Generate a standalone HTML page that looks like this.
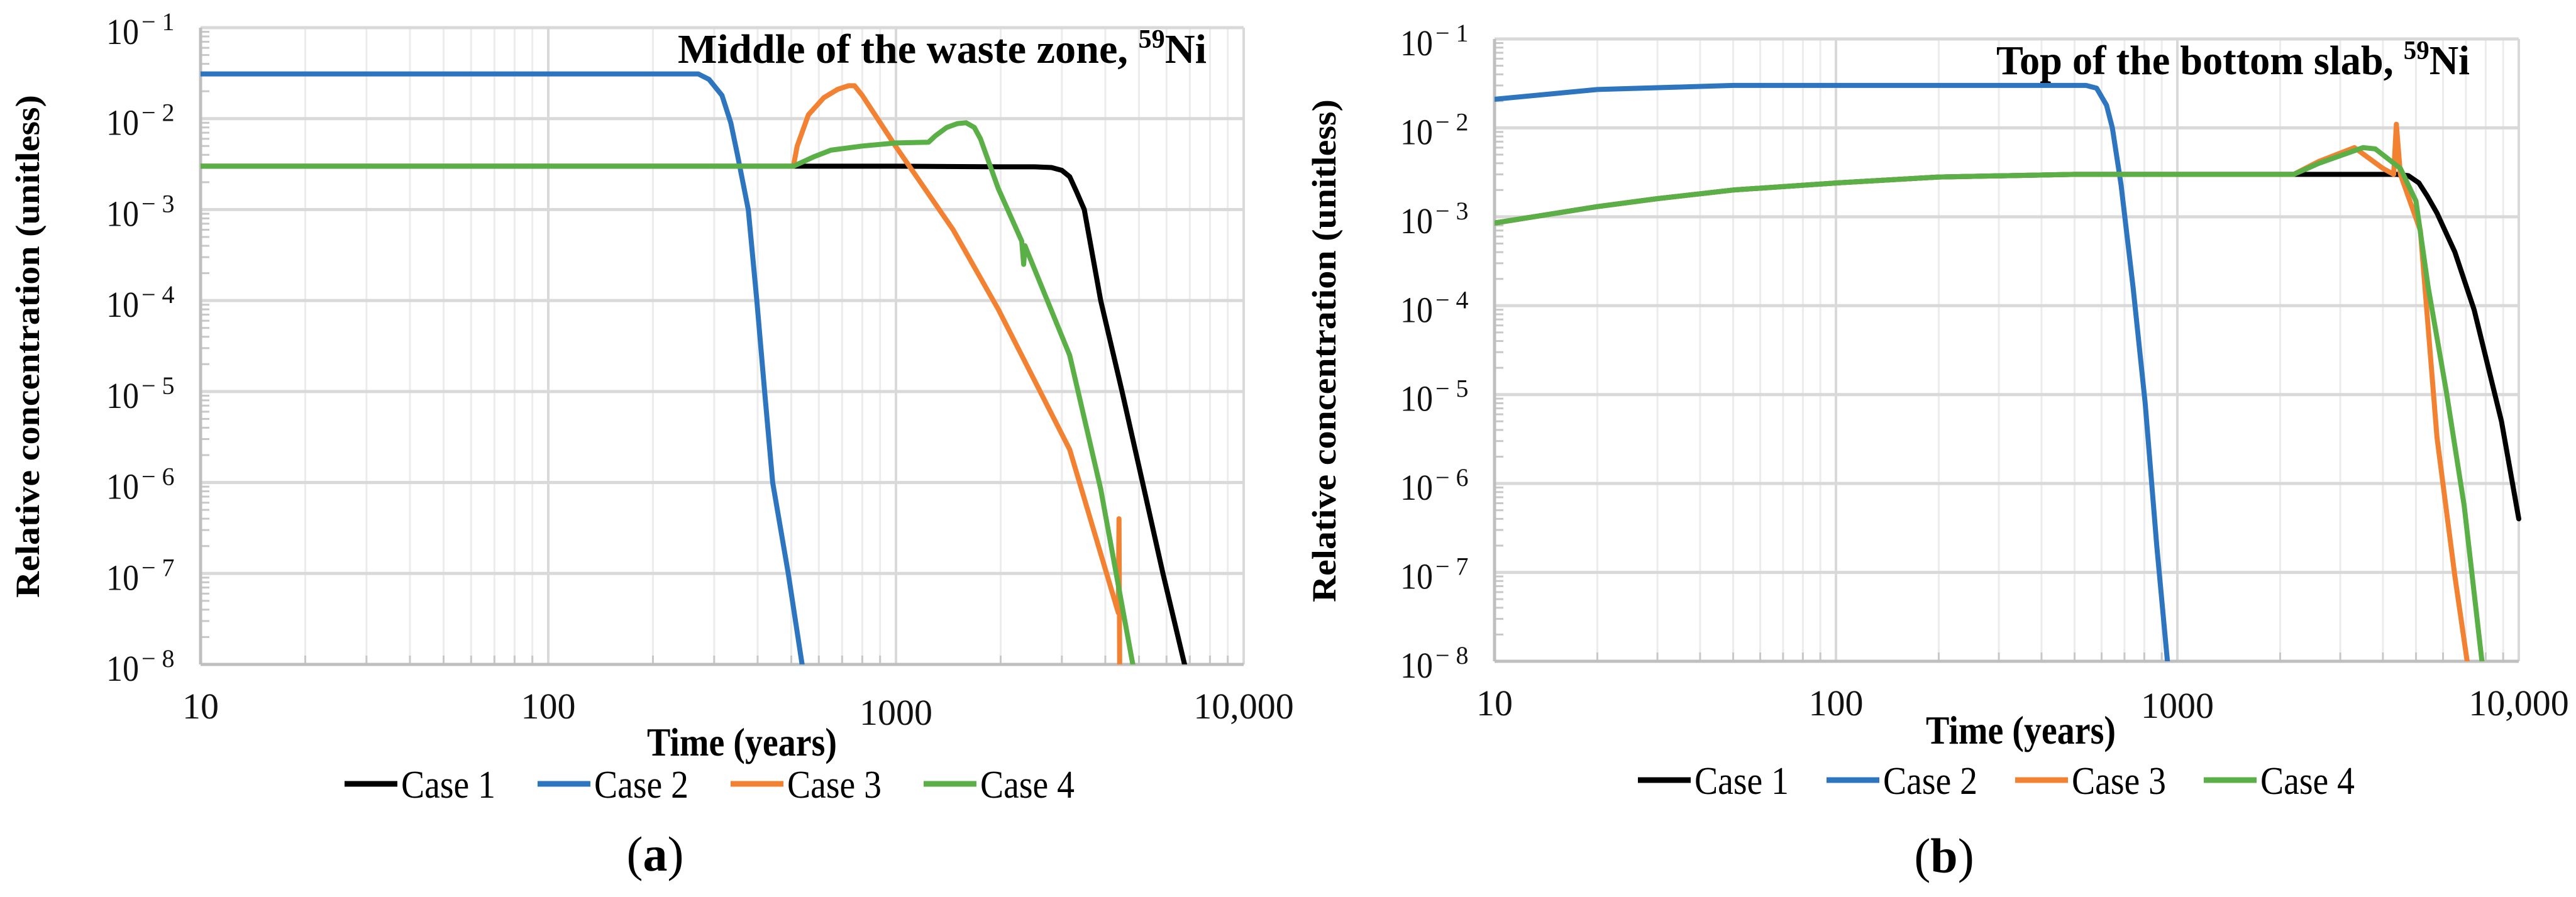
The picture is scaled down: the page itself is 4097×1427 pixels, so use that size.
<!DOCTYPE html>
<html><head><meta charset="utf-8"><style>
html,body{margin:0;padding:0;background:#fff;}
svg{display:block;}
svg text{font-family:"Liberation Serif","Times New Roman",serif;}
</style></head><body>
<svg id="fig" width="4097" height="1427" viewBox="0 0 4097 1427" xmlns="http://www.w3.org/2000/svg" font-family="Liberation Serif, serif"></svg>
<script>
// ---------- Panel (a) data: Middle of the waste zone ----------
const a_case1_t = [10, 500, 1000, 2000, 2500, 2800, 3000, 3160, 3300, 3480, 3880, 4470, 5120, 5860, 6760, 7000];
const a_case1_c = [3e-3, 3e-3, 3e-3, 2.95e-3, 2.95e-3, 2.9e-3, 2.7e-3, 2.3e-3, 1.6e-3, 1e-3, 1e-4, 1e-5, 1e-6, 1e-7, 1e-8, 3e-9];
const a_case2_t = [10, 270, 290, 316, 335, 350, 376, 398, 419, 442, 490, 537, 560];
const a_case2_c = [0.031, 0.031, 0.027, 0.018, 9e-3, 4e-3, 1e-3, 1e-4, 1e-5, 1e-6, 1e-7, 1e-8, 3e-9];
const a_case3_t = [10, 507, 520, 560, 620, 680, 730, 760, 800, 1000, 1460, 1970, 3160, 4360, 4380, 4400, 4420];
const a_case3_c = [3e-3, 3e-3, 5e-3, 0.011, 0.017, 0.021, 0.023, 0.023, 0.018, 4.9e-3, 6e-4, 8e-5, 2.3e-6, 3.7e-8, 4e-7, 1e-8, 3e-9];
const a_case4_t = [10, 507, 580, 650, 800, 1000, 1240, 1300, 1400, 1500, 1590, 1680, 1750, 1970, 2300, 2330, 2350, 3160, 3880, 4800, 5000];
const a_case4_c = [3e-3, 3e-3, 3.8e-3, 4.5e-3, 5e-3, 5.4e-3, 5.5e-3, 6.5e-3, 8e-3, 8.8e-3, 9e-3, 8e-3, 6e-3, 1.7e-3, 4.5e-4, 2.5e-4, 4e-4, 2.5e-5, 8.5e-7, 1e-8, 3e-9];

// ---------- Panel (b) data: Top of the bottom slab ----------
const b_case1_t = [10, 20, 30, 50, 100, 200, 500, 2190, 4400, 4750, 5100, 5400, 5760, 6500, 7400, 8900, 10000];
const b_case1_c = [8.5e-4, 1.3e-3, 1.6e-3, 2e-3, 2.4e-3, 2.8e-3, 3e-3, 3e-3, 3e-3, 2.9e-3, 2.4e-3, 1.7e-3, 1.1e-3, 4e-4, 9e-5, 5e-6, 4e-7];
const b_case2_t = [10, 20, 50, 540, 580, 620, 645, 684, 742, 805, 870, 935, 960];
const b_case2_c = [0.021, 0.027, 0.03, 0.03, 0.028, 0.018, 0.01, 2.3e-3, 1.6e-4, 8e-6, 2e-7, 1e-8, 3e-9];
const b_case3_t = [10, 20, 30, 50, 100, 200, 500, 2190, 2600, 3300, 4000, 4300, 4380, 4500, 5150, 5760, 6500, 7060, 7300];
const b_case3_c = [8.5e-4, 1.3e-3, 1.6e-3, 2e-3, 2.4e-3, 2.8e-3, 3e-3, 3e-3, 4.2e-3, 6e-3, 3.5e-3, 3e-3, 0.011, 3e-3, 7e-4, 3.3e-6, 9e-8, 1e-8, 3e-9];
const b_case4_t = [10, 20, 30, 50, 100, 200, 500, 2190, 2600, 3500, 3800, 4500, 5000, 5430, 6130, 6920, 7800, 8000];
const b_case4_c = [8.5e-4, 1.3e-3, 1.6e-3, 2e-3, 2.4e-3, 2.8e-3, 3e-3, 3e-3, 4e-3, 6e-3, 5.8e-3, 3.5e-3, 1.5e-3, 1.6e-4, 1.1e-5, 5.6e-7, 1e-8, 3e-9];

const xTickLabels = ["10", "100", "1000", "10,000"];
const yTickExps = ["1", "2", "3", "4", "5", "6", "7", "8"];
const legendLabels = ["Case 1", "Case 2", "Case 3", "Case 4"];

const NS = "http://www.w3.org/2000/svg";
const svg = document.getElementById("fig");
const colors = ["#000000", "#2e75c0", "#f28232", "#5aaf46"];
const FF = "Liberation Serif, serif";

function mk(tag, attrs, parent) {
  const e = document.createElementNS(NS, tag);
  for (const k in attrs) e.setAttribute(k, attrs[k]);
  if (tag === "text") e.setAttribute("font-family", FF);
  parent.appendChild(e);
  return e;
}

function panel(cfg) {
  const g = mk("g", {}, svg);
  
  
  const X = t => cfg.x0 + (Math.log10(t) - 1) / 3 * (cfg.x1 - cfg.x0);
  const Y = c => cfg.y0 + (-1 - Math.log10(c)) / 7 * (cfg.y1 - cfg.y0);
  for (let d = 1; d <= 3; d++) for (let m = 2; m <= 10; m++) {
    const t = Math.pow(10, d) * m;
    const x = X(t);
    const l = mk("line", {x1: x, x2: x, y1: cfg.y0, y2: cfg.y1, stroke: m === 10 ? "#d9d9d9" : "#ececec", "stroke-width": m === 10 ? 4 : 3}, g);
    
    
  }
  for (let i = 0; i < 8; i++) {
    const y = cfg.y0 + i * (cfg.y1 - cfg.y0) / 7;
    const l = mk("line", {x1: cfg.x0, x2: cfg.x1, y1: y, y2: y, stroke: "#d9d9d9", "stroke-width": 5}, g);
    
    
    if (i < 7) for (let m = 2; m <= 9; m++) {
      const yy = Y(Math.pow(10, -2 - i) * m);
      mk("line", {x1: cfg.x0, x2: cfg.x0 + 14, y1: yy, y2: yy, stroke: "#c8c8c8", "stroke-width": 3}, g);
    }
    const tl = mk("text", {x: cfg.x0 - 150, y: y + 26, "font-size": 58, fill: "#111", textLength: 52, lengthAdjust: "spacingAndGlyphs"}, g);
    tl.textContent = "10";
    
    
    const ts = mk("text", {x: cfg.x0 - 94, y: y + 4, "font-size": 40, fill: "#111"}, g);
    ts.textContent = "\u2212 " + yTickExps[i];
    
    
  }
  for (let d = 1; d <= 3; d++) for (let m = 2; m <= 9; m++) {
    const x = X(Math.pow(10, d) * m);
    mk("line", {x1: x, x2: x, y1: cfg.y1 - 14, y2: cfg.y1, stroke: "#c8c8c8", "stroke-width": 3}, g);
  }
  const ax = mk("line", {x1: cfg.x0, x2: cfg.x0, y1: cfg.y0, y2: cfg.y1, stroke: "#bfbfbf", "stroke-width": 5}, g);
  
  
  const bx = mk("line", {x1: cfg.x0, x2: cfg.x1, y1: cfg.y1, y2: cfg.y1, stroke: "#bfbfbf", "stroke-width": 5}, g);
  
  
  for (let i = 0; i < 4; i++) {
    const x = X(Math.pow(10, i + 1));
    const dy = (i === 2) ? cfg.xl1000dy : 0;
    const tl = mk("text", {x: x, y: cfg.xLabY + dy, "font-size": 58, "text-anchor": "middle", fill: "#111"}, g);
    tl.textContent = xTickLabels[i];
    
    
  }
  const cid = "clip" + cfg.name;
  const cp = mk("clipPath", {id: cid}, g);
  mk("rect", {x: cfg.x0, y: cfg.y0 - 10, width: cfg.x1 - cfg.x0 + 4, height: cfg.y1 - cfg.y0 + 10}, cp);
  const sg = mk("g", {"clip-path": "url(#" + cid + ")"}, g);
  cfg.series.forEach((s, k) => {
    const pts = s[0].map((t, j) => X(t).toFixed(1) + "," + Y(s[1][j]).toFixed(1)).join(" ");
    const pl = mk("polyline", {points: pts, fill: "none", stroke: colors[k], "stroke-width": 8, "stroke-linejoin": "round", "stroke-linecap": "round"}, sg);
    
    
  });
  const tt = mk("text", {x: cfg.titleX, y: cfg.titleY, "font-size": 66, "font-weight": "bold", fill: "#000", textLength: cfg.titleLen, lengthAdjust: "spacingAndGlyphs"}, g);
  tt.innerHTML = cfg.title + '<tspan font-size="42" dy="-24">59</tspan><tspan dy="24">Ni</tspan>';
  
  
  const xt = mk("text", {x: cfg.xtX, y: cfg.xtY, "font-size": 64, "font-weight": "bold", "text-anchor": "middle", textLength: 302, lengthAdjust: "spacingAndGlyphs"}, g);
  xt.textContent = "Time (years)";
  
  
  const yt = mk("text", {x: 0, y: 0, "font-size": 54, "font-weight": "bold", "text-anchor": "middle", textLength: 800, lengthAdjust: "spacingAndGlyphs", transform: "translate(" + cfg.ytX + "," + cfg.ytY + ") rotate(-90)"}, g);
  yt.textContent = "Relative concentration (unitless)";
  
  
  for (let k = 0; k < 4; k++) {
    const lx = cfg.legX + k * cfg.legStep;
    const lg = mk("g", {}, g);
    
    
    mk("line", {x1: lx, x2: lx + 84, y1: cfg.legY, y2: cfg.legY, stroke: colors[k], "stroke-width": 9}, lg);
    const lt = mk("text", {x: lx + 90, y: cfg.legY + 22, "font-size": 62, textLength: 150, lengthAdjust: "spacingAndGlyphs"}, lg);
    lt.textContent = legendLabels[k];
  }
  const pl = mk("text", {x: cfg.capX, y: cfg.capY, "font-size": 78, "text-anchor": "middle"}, g);
  pl.innerHTML = '(<tspan font-weight="bold">' + cfg.cap + '</tspan>)';
  
  
}

panel({name: "panel-a", x0: 319, x1: 1978, y0: 44, y1: 1057, xLabY: 1143, xl1000dy: 10,
  series: [[a_case1_t, a_case1_c], [a_case2_t, a_case2_c], [a_case3_t, a_case3_c], [a_case4_t, a_case4_c]],
  title: "Middle of the waste zone, ", titleX: 1078, titleY: 100, titleLen: 841,
  xtX: 1180, xtY: 1202, ytX: 62, ytY: 551, legX: 548, legStep: 307, legY: 1247,
  cap: "a", capX: 1042, capY: 1385});
panel({name: "panel-b", x0: 2377, x1: 4006, y0: 62, y1: 1052, xLabY: 1138, xl1000dy: 4,
  series: [[b_case1_t, b_case1_c], [b_case2_t, b_case2_c], [b_case3_t, b_case3_c], [b_case4_t, b_case4_c]],
  title: "Top of the bottom slab, ", titleX: 3175, titleY: 118, titleLen: 753,
  xtX: 3214, xtY: 1183, ytX: 2124, ytY: 558, legX: 2605, legStep: 300, legY: 1241,
  cap: "b", capX: 3092, capY: 1388});
</script>
</body></html>
